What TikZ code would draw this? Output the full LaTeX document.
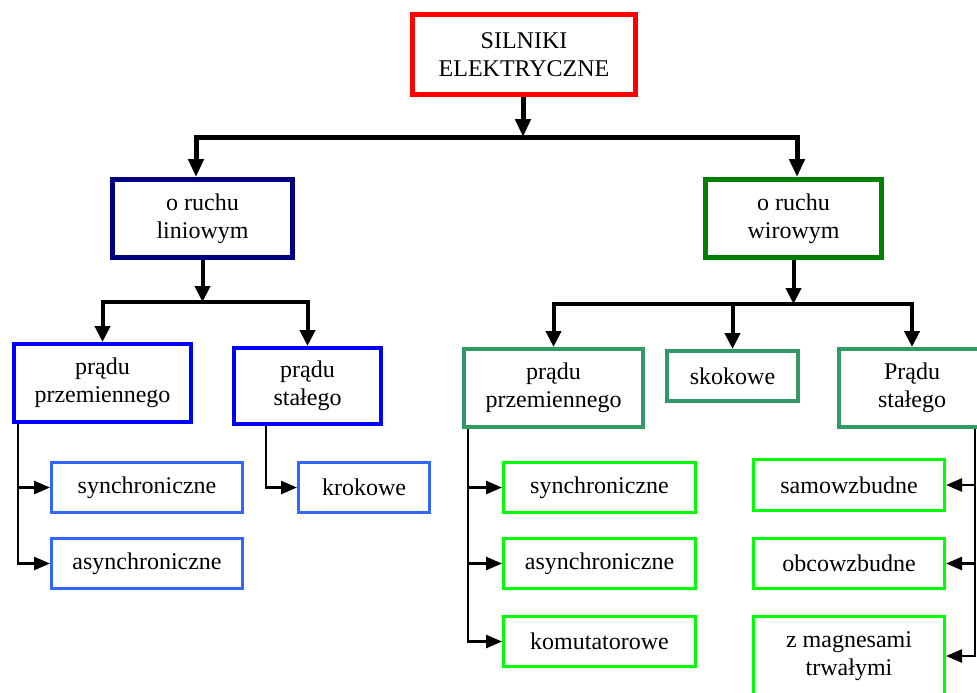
\documentclass[tikz,border=0pt]{standalone}
\usepackage{fontspec}
\setmainfont{Liberation Serif}
\usetikzlibrary{arrows.meta}

\definecolor{cRed}{HTML}{FF0000}
\definecolor{cNavy}{HTML}{000080}
\definecolor{cBlue}{HTML}{0000FF}
\definecolor{cLightBlue}{HTML}{3366FF}
\definecolor{cGreen}{HTML}{008000}
\definecolor{cSeaGreen}{HTML}{339966}
\definecolor{cBrightGreen}{HTML}{00FF00}

\tikzset{
  tipA/.tip={Triangle[length=9pt,width=7.5pt]},
  tipB/.tip={Triangle[length=8pt,width=7.5pt]},
  tipC/.tip={Triangle[length=8pt,width=6.5pt]},
  box/.style={draw, rectangle, inner sep=0pt, align=center, fill=white,
    font=\fontsize{12}{13.8}\selectfont},
  boxA/.style={box, line width=2.5pt},
  boxB/.style={box, line width=2pt},
  boxC/.style={box, line width=1.5pt},
  conA/.style={line width=2.5pt},
  conB/.style={line width=2pt},
  conC/.style={line width=1.3pt, -tipC},
}

\begin{document}
\begin{tikzpicture}[x=0.5pt,y=-0.5pt]
\clip (0,0) rectangle (977,692);
\fill[white] (0,0) rectangle (977,692);

% root
\node[boxA, draw=cRed, minimum width=111.5pt, minimum height=40pt] (top) at (524,54.5) {SILNIKI\\ELEKTRYCZNE};

% first level
\node[boxA, draw=cNavy, minimum width=90pt, minimum height=39pt] (lin) at (202.5,218.5) {o ruchu\\liniowym};
\node[boxA, draw=cGreen, minimum width=88pt, minimum height=39pt] (wir) at (793.5,218.5) {o ruchu\\wirowym};

% second level, linear motion
\node[boxB, draw=cBlue, minimum width=88.5pt, minimum height=39pt] (Lprz) at (102.5,383) {prądu\\przemiennego};
\node[boxB, draw=cBlue, minimum width=73.5pt, minimum height=38pt] (Lsta) at (307.5,386) {prądu\\stałego};

% second level, rotary motion
\node[boxB, draw=cSeaGreen, minimum width=89.5pt, minimum height=39pt] (Rprz) at (553.5,388) {prądu\\przemiennego};
\node[boxB, draw=cSeaGreen, minimum width=65.5pt, minimum height=25pt] (skok) at (732.5,376) {skokowe};
\node[boxB, draw=cSeaGreen, minimum width=73pt, minimum height=39pt] (Rsta) at (912,388) {Prądu\\stałego};

% third level, linear motion
\node[boxC, draw=cLightBlue, minimum width=95.5pt, minimum height=25pt] (Lsyn) at (147,487.5) {synchroniczne};
\node[boxC, draw=cLightBlue, minimum width=95.5pt, minimum height=25pt] (Lasy) at (147,563.5) {asynchroniczne};
\node[boxC, draw=cLightBlue, minimum width=65.5pt, minimum height=25pt] (krok) at (364,487.5) {krokowe};

% third level, rotary motion
\node[boxC, draw=cBrightGreen, minimum width=96pt, minimum height=25pt] (Rsyn) at (599.5,487.5) {synchroniczne};
\node[boxC, draw=cBrightGreen, minimum width=96pt, minimum height=25pt] (Rasy) at (599.5,563.5) {asynchroniczne};
\node[boxC, draw=cBrightGreen, minimum width=96pt, minimum height=25pt] (Rkom) at (599.5,641.5) {komutatorowe};
\node[boxC, draw=cBrightGreen, minimum width=95.5pt, minimum height=25.5pt] (samo) at (849,485) {samowzbudne};
\node[boxC, draw=cBrightGreen, minimum width=95.5pt, minimum height=25pt] (obco) at (849,563.5) {obcowzbudne};
\node[boxC, draw=cBrightGreen, minimum width=95.5pt, minimum height=39.5pt] (magn) at (849,656) {z magnesami\\trwałymi};

% junctions of the branching lines
\coordinate (hubT) at (523,137);
\coordinate (hubL) at (202.5,302);
\coordinate (hubR) at (793.5,304);

% root branching
\draw[conA, -tipA] (top.south -| hubT) -- (hubT);
\draw[conA, tipA-tipA] ([xshift=-3.25pt]lin.north) |- (hubT) -| ([xshift=1.75pt]wir.north);

% linear motion branching
\draw[conB, -tipB] (lin.south) -- (hubL);
\draw[conB, tipB-tipB] (Lprz.north) |- (hubL) -| (Lsta.north);

% rotary motion branching
\draw[conB, -tipB] (wir.south) -- (hubR);
\draw[conB, tipB-tipB] (Rprz.north) |- (hubR) -| (Rsta.north);
\draw[conB, -tipB] (skok.north |- hubR) -- (skok.north);

% leaf connectors
\draw[conC] ([xshift=3pt]Lprz.south west) |- (Lsyn.west);
\draw[conC] ([xshift=3pt]Lprz.south west) |- (Lasy.west);
\draw[conC] ([xshift=17pt]Lsta.south west) |- (krok.west);
\draw[conC] ([xshift=3pt]Rprz.south west) |- (Rsyn.west);
\draw[conC] ([xshift=3pt]Rprz.south west) |- (Rasy.west);
\draw[conC] ([xshift=3pt]Rprz.south west) |- (Rkom.west);
\draw[conC] ([xshift=-6pt]Rsta.south east) |- (samo.east);
\draw[conC] ([xshift=-6pt]Rsta.south east) |- (obco.east);
\draw[conC] ([xshift=-6pt]Rsta.south east) |- (magn.east);
\end{tikzpicture}
\end{document}
